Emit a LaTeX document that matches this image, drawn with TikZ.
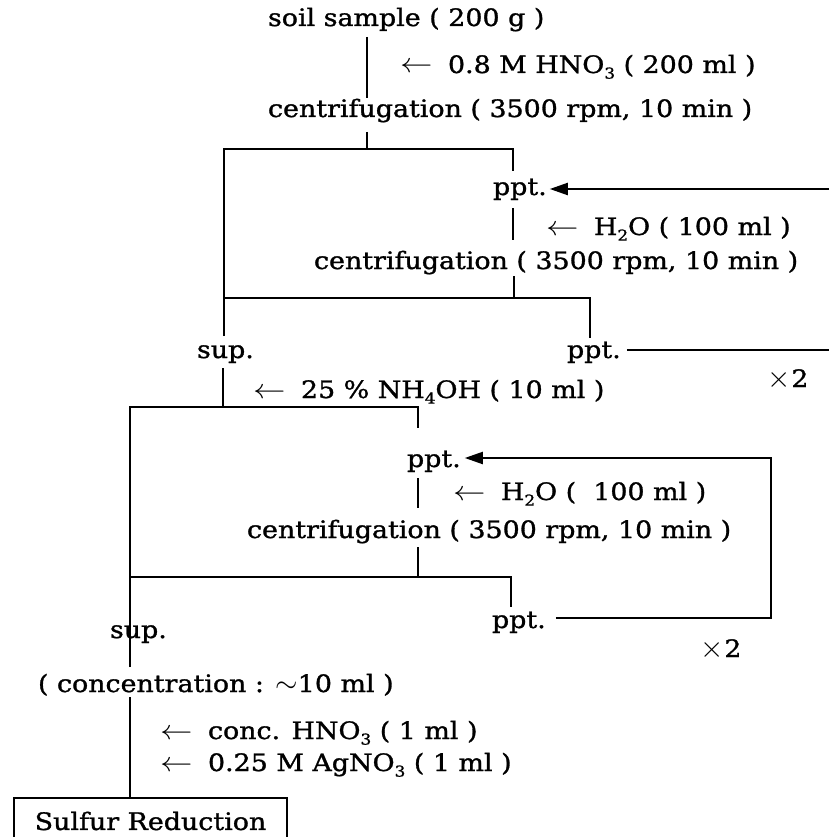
\documentclass[tikz,border=0pt]{standalone}
\usepackage{fix-cm}
\usepackage{fontspec}
\setmainfont{DejaVu Serif}[FakeStretch=1.12,FakeBold=1.2]
\usetikzlibrary{arrows.meta}
% small lowered index for chemical formulas
\newcommand{\chemsub}[1]{\raisebox{-0.45ex}{\fontsize{15}{15}\selectfont #1}}
% reagent added to a step
\newcommand{\addin}{\scalebox{1.35}[1.15]{$\leftarrow$}\hspace{0.65em}}
% repetition mark
\newcommand{\reptimes}{\scalebox{1.25}{$\times$}\hspace{1pt}2}

\begin{document}
\begin{tikzpicture}[x=1pt,y=-1pt,line width=2pt,line join=miter,
  lbl/.style={anchor=base west,inner sep=0pt,outer sep=0pt,
              font=\fontsize{24}{28}\selectfont},
  back/.style={-{Triangle[length=18pt,width=12pt]}}]
\useasboundingbox (0,0) rectangle (829,837);
\clip (0,0) rectangle (829,837);

% ---- labels ----
\node[lbl] (soil)  at (268,26)  {soil sample ( 200 g )};
\node[lbl] (hno3)  at (400,73)  {\addin 0.8 M HNO\chemsub{3} ( 200 ml )};
\node[lbl] (cen1)  at (268,117) {centrifugation ( 3500 rpm, 10 min )};
\node[lbl] (ppt1)  at (493,195) {ppt.};
\node[lbl] (wat1)  at (546,235) {\addin H\chemsub{2}O ( 100 ml )};
\node[lbl] (cen2)  at (314,269) {centrifugation ( 3500 rpm, 10 min )};
\node[lbl] (sup1)  at (197,358) {sup.};
\node[lbl] (ppt2)  at (567,358) {ppt.};
\node[lbl] (rep1)  at (767,387) {\reptimes};
\node[lbl] (nh4)   at (253,398) {\addin 25 \% NH\chemsub{4}OH ( 10 ml )};
\node[lbl] (ppt3)  at (407,467) {ppt.};
\node[lbl] (wat2)  at (453,500) {\addin H\chemsub{2}O (\ \ 100 ml )};
\node[lbl] (cen3)  at (247,538) {centrifugation ( 3500 rpm, 10 min )};
\node[lbl] (ppt4)  at (492,628) {ppt.};
\node[lbl] (sup2)  at (110,638) {sup.};
\node[lbl] (rep2)  at (700,657) {\reptimes};
\node[lbl] (conc)  at (38,692)  {( concentration : \scalebox{1.2}{$\sim$}10 ml )};
\node[lbl] (hno3b) at (160,739) {\addin conc. HNO\chemsub{3} ( 1 ml )};
\node[lbl] (agno3) at (160,771) {\addin 0.25 M AgNO\chemsub{3} ( 1 ml )};
\node[draw,inner sep=0pt,minimum width=273pt,minimum height=46pt,
      anchor=north west,font=\fontsize{24}{28}\selectfont]
      (sulfur) at (13,797) {Sulfur Reduction};

% ---- junction points ----
\coordinate (loopA) at (829,189);
\coordinate (loopB) at (829,350);
\coordinate (loopC) at (771,618);
\coordinate (loopD) at (771,458);

% ---- first extraction ----
\draw (367,37) -- (367,98);
\draw (367,132) -- (367,149);
\draw (224,336) |- (513,149) -- (513,171);
\draw[back] (loopA) -- ([xshift=3pt]ppt1.east |- loopA);
\draw (513,208) -- (513,240);
\draw (514,276) -- (514,298);
\draw (224,298) -| (590,338);
\draw ([xshift=6pt]ppt2.east |- loopB) -- (loopB);

% ---- ammonia treatment ----
\draw (223,368) -- (223,407);
\draw (130,667) |- (418,407) -- (418,428);
\draw (418,478) -- (418,508);
\draw (418,547) -- (418,577);
\draw (130,577) -| (511,607);
\draw[back] ([xshift=10pt]ppt4.east |- loopC) -- (loopC) -- (loopD)
            -- ([xshift=4pt]ppt3.east |- loopD);

% ---- final step ----
\draw (130,697) -- (sulfur.north -| 130,0);
\end{tikzpicture}
\end{document}
